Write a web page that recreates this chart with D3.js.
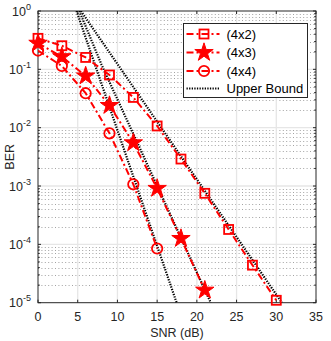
<!DOCTYPE html>
<html>
<head>
<meta charset="utf-8">
<script src="https://cdn.jsdelivr.net/npm/d3@7"></script>
<style>
  body { margin: 0; background: #fff; }
  text { font-family: "Liberation Sans", Arial, sans-serif; }
</style>
</head>
<body>
<div id="chart"></div>
<script>
// Data
const snr4x2 = [0, 3, 6, 9, 12, 15, 18, 21, 24, 27, 30]
const ber4x2 = [0.34, 0.254, 0.16, 0.08, 0.033, 0.0107, 0.0029, 7.5e-4, 1.8e-4, 4.4e-5, 1.1e-5]
const snr4x3 = [0, 3, 6, 9, 12, 15, 18, 21]
const ber4x3 = [0.28, 0.165, 0.077, 0.024, 0.0055, 9.1e-4, 1.26e-4, 1.64e-5]
const snr4x4 = [0, 3, 6, 9, 12, 15]
const ber4x4 = [0.21, 0.114, 0.039, 0.008, 0.00107, 8.5e-5]
// upper bounds (dotted)
const boundSnr4x2 = [5.4, 10.1, 30.7]
const boundBer4x2 = [1, 0.118, 1e-5]
const boundSnr4x3 = [5.2, 8, 21.75]
const boundBer4x3 = [1, 0.12, 1e-5]
const boundSnr4x4 = [4.85, 7.2, 17.45]
const boundBer4x4 = [1, 0.117, 1e-5]

const xTicks = [0, 5, 10, 15, 20, 25, 30, 35]
const yTicks = [-5, -4, -3, -2, -1, 0]
const legendLabels = ["(4x2)", "(4x3)", "(4x4)", "Upper Bound"]

const dimensions = {
  width: 331,
  height: 341,
  margin: { top: 11, right: 15, bottom: 38.3, left: 38 },
}
dimensions.boundedWidth = dimensions.width - dimensions.margin.left - dimensions.margin.right
dimensions.boundedHeight = dimensions.height - dimensions.margin.top - dimensions.margin.bottom

const wrapper = d3.select("#chart").append("svg")
  .attr("width", dimensions.width)
  .attr("height", dimensions.height)
const bounds = wrapper.append("g")
  .attr("transform", `translate(${dimensions.margin.left},${dimensions.margin.top})`)

const xScale = d3.scaleLinear().domain([0, 35]).range([0, dimensions.boundedWidth])
const yScale = d3.scaleLog().domain([1e-5, 1]).range([dimensions.boundedHeight, 0])

const W = dimensions.boundedWidth
const H = dimensions.boundedHeight

// minor grid (dotted)
const minorY = []
for (let e = -5; e < 0; e++) {
  for (let m = 2; m <= 9; m++) minorY.push(m * Math.pow(10, e))
}
bounds.append("g").selectAll("line").data(minorY).join("line")
  .attr("x1", 0).attr("x2", W)
  .attr("y1", d => Math.round(yScale(d)) + 0.5).attr("y2", d => Math.round(yScale(d)) + 0.5)
  .attr("stroke", "#666").attr("stroke-opacity", 0.6)
  .attr("stroke-width", 1).attr("stroke-dasharray", "1,2.4")

// major grid
bounds.append("g").selectAll("line").data(xTicks.slice(1, -1)).join("line")
  .attr("x1", d => xScale(d)).attr("x2", d => xScale(d))
  .attr("y1", 0).attr("y2", H)
  .attr("stroke", "#e6e6e6").attr("stroke-width", 1.3)
bounds.append("g").selectAll("line").data(yTicks.slice(1, -1)).join("line")
  .attr("x1", 0).attr("x2", W)
  .attr("y1", d => yScale(Math.pow(10, d))).attr("y2", d => yScale(Math.pow(10, d)))
  .attr("stroke", "#e6e6e6").attr("stroke-width", 1.3)

// box
bounds.append("rect")
  .attr("x", 0).attr("y", 0).attr("width", W).attr("height", H)
  .attr("fill", "none").attr("stroke", "#262626").attr("stroke-width", 1)

// ticks (inward), top/bottom/left/right
const tickLen = 3
xTicks.forEach(t => {
  const x = xScale(t)
  bounds.append("line").attr("x1", x).attr("x2", x).attr("y1", H).attr("y2", H - tickLen).attr("stroke", "#262626")
  bounds.append("line").attr("x1", x).attr("x2", x).attr("y1", 0).attr("y2", tickLen).attr("stroke", "#262626")
})
yTicks.forEach(t => {
  const y = yScale(Math.pow(10, t))
  bounds.append("line").attr("x1", 0).attr("x2", tickLen).attr("y1", y).attr("y2", y).attr("stroke", "#262626")
  bounds.append("line").attr("x1", W).attr("x2", W - tickLen).attr("y1", y).attr("y2", y).attr("stroke", "#262626")
})
minorY.forEach(v => {
  const y = yScale(v)
  bounds.append("line").attr("x1", 0).attr("x2", 1.8).attr("y1", y).attr("y2", y).attr("stroke", "#262626")
  bounds.append("line").attr("x1", W).attr("x2", W - 1.8).attr("y1", y).attr("y2", y).attr("stroke", "#262626")
})

// tick labels
bounds.append("g").selectAll("text").data(xTicks).join("text")
  .attr("x", d => xScale(d)).attr("y", H + 18.5)
  .attr("text-anchor", "middle").attr("font-size", 12.5).attr("fill", "#262626")
  .text(d => d)
const yLab = bounds.append("g").selectAll("text").data(yTicks).join("text")
  .attr("x", -7).attr("y", d => yScale(Math.pow(10, d)) + 4.5)
  .attr("text-anchor", "end").attr("font-size", 12.5).attr("fill", "#262626")
yLab.append("tspan").text("10")
yLab.append("tspan").attr("dy", -6).attr("font-size", 9).text(d => d)

// axis labels
wrapper.append("text")
  .attr("x", dimensions.margin.left + xScale(17.5)).attr("y", 337)
  .attr("text-anchor", "middle").attr("font-size", 12.5).attr("fill", "#262626")
  .text("SNR (dB)")
wrapper.append("text")
  .attr("transform", `translate(14,${dimensions.margin.top + H / 2}) rotate(-90)`)
  .attr("text-anchor", "middle").attr("font-size", 12.5).attr("fill", "#262626")
  .text("BER")

// clip
wrapper.append("defs").append("clipPath").attr("id", "clip")
  .append("rect").attr("width", W).attr("height", H)
const plot = bounds.append("g").attr("clip-path", "url(#clip)")

const line = d3.line().x(d => xScale(d[0])).y(d => yScale(d[1]))
const zip = (a, b) => a.map((v, i) => [v, b[i]])

// upper bounds
const bounds3 = [zip(boundSnr4x2, boundBer4x2), zip(boundSnr4x3, boundBer4x3), zip(boundSnr4x4, boundBer4x4)]
bounds3.forEach(b => {
  plot.append("path").datum(b)
    .attr("fill", "none").attr("stroke", "#000")
    .attr("stroke-width", 2.2).attr("stroke-dasharray", "1.3,1.3")
    .attr("d", line)
})

const red = "#ff0000"
const dashDot = "7,3,2,3"
const star = d3.symbol().type(d3.symbolStar).size(105)

const series = [
  { data: zip(snr4x2, ber4x2), marker: "square" },
  { data: zip(snr4x3, ber4x3), marker: "star" },
  { data: zip(snr4x4, ber4x4), marker: "circle" },
]

function drawMarker(g, type, x, y) {
  if (type === "square") {
    g.append("rect").attr("x", x - 4.5).attr("y", y - 4.5).attr("width", 9).attr("height", 9)
      .attr("fill", "none").attr("stroke", red).attr("stroke-width", 1.8)
  } else if (type === "circle") {
    g.append("circle").attr("cx", x).attr("cy", y).attr("r", 5.2)
      .attr("fill", "none").attr("stroke", red).attr("stroke-width", 1.8)
  } else {
    g.append("path").attr("d", star).attr("transform", `translate(${x},${y})`)
      .attr("fill", red).attr("stroke", red).attr("stroke-width", 1)
  }
}

series.forEach(s => {
  plot.append("path").datum(s.data)
    .attr("fill", "none").attr("stroke", red)
    .attr("stroke-width", 2).attr("stroke-dasharray", dashDot)
    .attr("d", line)
})
series.forEach(s => {
  const g = bounds.append("g")
  s.data.forEach(d => drawMarker(g, s.marker, xScale(d[0]), yScale(d[1])))
})

// legend
const legend = wrapper.append("g").attr("transform", "translate(183.5,23.5)")
legend.append("rect").attr("width", 124).attr("height", 74)
  .attr("fill", "#fff").attr("stroke", "#262626").attr("stroke-width", 1)
const rowY = [10.5, 29, 47.5, 65]
legendLabels.forEach((label, i) => {
  const y = rowY[i]
  if (i < 3) {
    legend.append("line").attr("x1", 3).attr("x2", 36).attr("y1", y).attr("y2", y)
      .attr("stroke", red).attr("stroke-width", 2).attr("stroke-dasharray", "7,3,2,3")
    drawMarker(legend, series[i].marker, 20.5, y)
  } else {
    legend.append("line").attr("x1", 3).attr("x2", 36).attr("y1", y).attr("y2", y)
      .attr("stroke", "#000").attr("stroke-width", 2.2).attr("stroke-dasharray", "1.3,1.3")
  }
  legend.append("text").attr("x", 43).attr("y", y + 4.5)
    .attr("font-size", 13).attr("fill", "#000").text(label)
})
</script>
</body>
</html>
